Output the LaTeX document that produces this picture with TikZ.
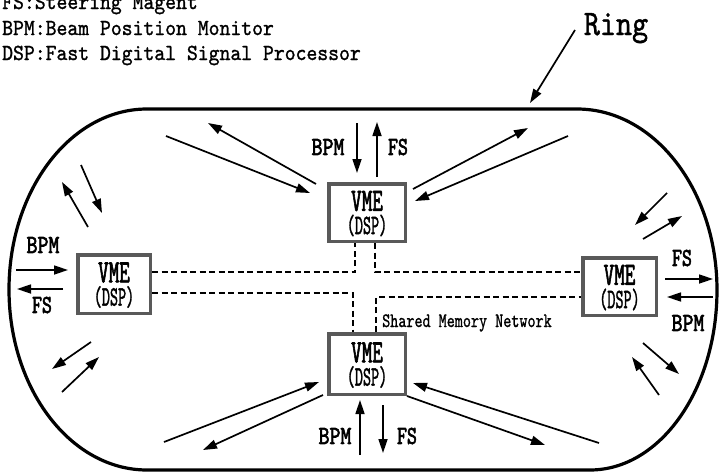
\documentclass[tikz,border=0pt]{standalone}
\usepackage{fontspec}
\usepackage{graphicx}
\usetikzlibrary{arrows.meta}
\newfontfamily\jm[FakeBold=1.2]{lmmono10-regular.otf}
\newfontfamily\jd[FakeBold=1.8]{lmmono10-regular.otf}
\newfontfamily\jb[FakeBold=2.6]{lmmono10-regular.otf}
\newcommand{\sx}[2]{\scalebox{#1}[1]{#2}}
\begin{document}
\begin{tikzpicture}[x=1pt,y=-1pt,
  arr/.style={line width=1.7pt,-{Triangle[length=14pt,width=9pt]}},
  ringline/.style={line width=3.2pt,line join=round},
  dsp/.style={draw=black!65,line width=3.5pt,fill=white,inner sep=0pt},
  net/.style={line width=1.6pt,dash pattern=on 6pt off 3.5pt},
  lab/.style={font=\jb\fontsize{26}{28}\selectfont,inner sep=0pt},
  vme/.style={font=\jb\fontsize{32.5}{34}\selectfont,inner sep=0pt},
  dspt/.style={font=\jd\fontsize{28}{30}\selectfont,inner sep=0pt},
  legend/.style={font=\jm\fontsize{23}{25}\selectfont,anchor=base west,inner sep=0pt}]
\useasboundingbox (0,0) rectangle (721,474);

% legend
\node[legend] (lg1) at (2,9) {\sx{0.9}{FS:Steering Magent}};
\node[legend] (lg2) at (2,35) {\sx{0.9}{BPM:Beam Position Monitor}};
\node[legend] (lg3) at (2,60) {\sx{0.9}{DSP:Fast Digital Signal Processor}};

% ring
\draw[ringline] (147,109) -- (577,109)
  arc[start angle=-90,end angle=0,x radius=140,y radius=181]
  arc[start angle=0,end angle=90,x radius=127,y radius=180]
  -- (147,470)
  arc[start angle=90,end angle=270,x radius=138,y radius=180.5] -- cycle;
\node[font=\jm\fontsize{36}{38}\selectfont,inner sep=0pt,anchor=base] (ringlab) at (616,35) {\sx{0.85}{Ring}};
\coordinate (ringtail) at (575,30);
\coordinate (ringtip) at (530,103);
\draw[arr] (ringtail) -- (ringtip);

% boxes
\node[dsp,minimum width=76.5pt,minimum height=57.5pt] (T) at (367,212.5) {};
\node[dsp,minimum width=76.5pt,minimum height=60.5pt] (B) at (367,364) {};
\node[dsp,minimum width=72.5pt,minimum height=58.5pt] (L) at (114,284) {};
\node[dsp,minimum width=73.5pt,minimum height=57.5pt] (R) at (619.5,286.5) {};
\foreach \b in {T,B,L,R}{
  \node[vme] (\b v) at ([yshift=11.5pt]\b.center) {\sx{0.62}{VME}};
  \node[dspt] (\b d) at ([yshift=-13pt]\b.center) {\sx{0.55}{(DSP)}};
}

% shared memory network
\draw[net] (L.east |- 0,272) -- (355,272) -- (T.south -| 355,0);
\draw[net] (T.south -| 375,0) -- (375,272) -- (R.west |- 0,272);
\draw[net] (L.east |- 0,293) -- (353,293) -- (B.north -| 353,0);
\draw[net] (B.north -| 376,0) -- (376,297) -- (R.west |- 0,297);
\node[font=\jm\fontsize{20.5}{22}\selectfont,inner sep=0pt,anchor=base west] (smn) at (382,327) {\sx{0.75}{Shared Memory Network}};

% BPM / FS labels
\node[lab] (bpmT) at (328,147) {\sx{0.8}{BPM}};
\node[lab] (fsT) at (398,147) {\sx{0.73}{FS}};
\node[lab] (bpmB) at (335,436) {\sx{0.8}{BPM}};
\node[lab] (fsB) at (407,436) {\sx{0.73}{FS}};
\node[lab] (bpmL) at (43,245) {\sx{0.8}{BPM}};
\node[lab] (fsL) at (42,305) {\sx{0.73}{FS}};
\node[lab] (fsR) at (682,258) {\sx{0.73}{FS}};
\node[lab] (bpmR) at (688,323) {\sx{0.8}{BPM}};

% BPM / FS arrows
\draw[arr] (357,123) -- (357,173);
\draw[arr] (377,177) -- (377,122);
\draw[arr] (360,455) -- (360,400);
\draw[arr] (383,405) -- (383,453);
\draw[arr] (16,270) -- (68,270);
\draw[arr] (63,289) -- (17,289);
\draw[arr] (665,279) -- (713,279);
\draw[arr] (713,297) -- (667,297);

% ring <-> DSP arrows
\draw[arr] (166,136) -- (310,193);
\draw[arr] (316,184) -- (208,123);
\draw[arr] (81,165) -- (102,213);
\draw[arr] (88,227) -- (62,182);
\draw[arr] (413,189) -- (528,128);
\draw[arr] (568,136) -- (415,201);
\draw[arr] (667,193) -- (635,225);
\draw[arr] (643,239) -- (682,216);
\draw[arr] (91,342) -- (52,369);
\draw[arr] (62,392) -- (99,357);
\draw[arr] (164,442) -- (319,382);
\draw[arr] (323,395) -- (203,450);
\draw[arr] (599,443) -- (413,383);
\draw[arr] (407,396) -- (545,445);
\draw[arr] (643,343) -- (679,374);
\draw[arr] (659,395) -- (632,357);
\end{tikzpicture}
\end{document}
